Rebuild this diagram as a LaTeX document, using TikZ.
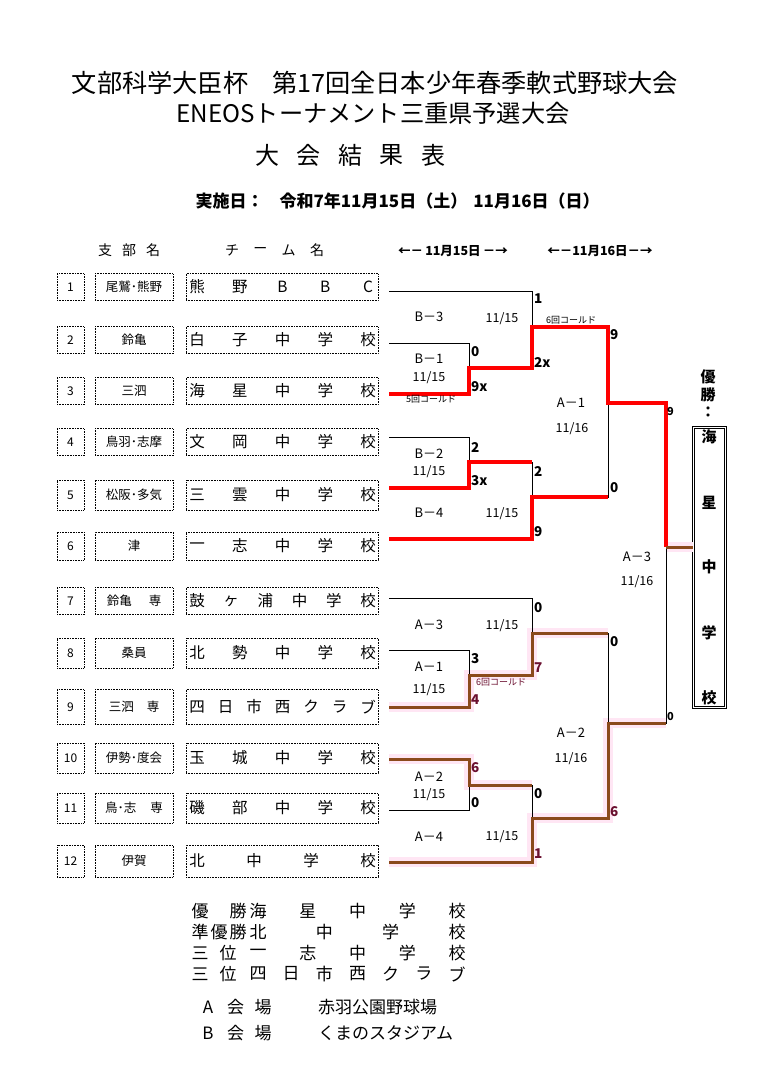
\documentclass[tikz,border=0pt]{standalone}
\usepackage{fontspec}
\setmainfont{Noto Sans CJK JP}
\usetikzlibrary{calc}
\definecolor{winRed}{HTML}{FF0000}
\definecolor{runBrown}{HTML}{8B4A1C}
\definecolor{haloPink}{HTML}{FFE6F4}
\definecolor{scoreMaroon}{HTML}{6B1030}
\newcommand{\fsz}[1]{\fontsize{#1}{#1}\selectfont}
\tikzset{
  numbox/.style={draw, densely dotted, line width=0.6pt, minimum width=27, minimum height=28, inner sep=0pt, font=\fsz{12}},
  branchbox/.style={numbox, minimum width=78, font=\fsz{12.5}},
  teambox/.style={numbox, minimum width=192},
  teamchar/.style={font=\fsz{15.5}, inner sep=0pt},
  headchar/.style={font=\fsz{14}, inner sep=0pt},
  titlechar/.style={font=\fsz{24}, inner sep=0pt},
  daterange/.style={font=\bfseries\fsz{12.5}, inner sep=0pt},
  matchlbl/.style={font=\fsz{13}, inner sep=0pt},
  datelbl/.style={font=\fsz{12.5}, inner sep=0pt},
  score/.style={font=\bfseries\fsz{13.5}, anchor=west, inner sep=0pt},
  coldnote/.style={font=\fsz{9}, inner sep=0pt},
  plainline/.style={draw=black, line width=1pt},
  winline/.style={draw=winRed, line width=3.2pt},
  runline/.style={draw=runBrown, line width=3pt},
  halo/.style={draw=haloPink, line width=10pt},
  champbox/.style={draw, double, double distance=1.4pt, line width=0.6pt, minimum width=32.5, minimum height=280.5, inner sep=0pt},
  champchar/.style={font=\bfseries\fsz{15}, inner sep=0pt},
  reschar/.style={font=\fsz{17}, inner sep=0pt},
}
% characters spread evenly between two x positions
\newcommand{\spreadchars}[7]{%
  \foreach \chr [count=\cidx] in {#7}
    \node[#1] (#2\cidx) at ({#4+(\cidx-1)*(#5-#4)/(#6-1)}, #3) {\chr};%
}
% one row of the team table
\newcommand{\teamrow}[6]{%
  \node[numbox, minimum height=#3] (num#1) at (70.5,#2) {#1};
  \node[branchbox, minimum height=#3] (br#1) at (134,#2) {#4};
  \node[teambox, minimum height=#3] (tm#1) at (282,#2) {};
  \spreadchars{teamchar}{tm#1c}{#2}{197}{368}{#5}{#6}
}
\newcommand{\brownpaths}[1]{%
  \draw[#1] (s9) -| (mA1a) -| (mA3a) -- (mA3a -| mA2);
  \draw[#1] (s10) -| (mA2a) -- (mA2a -| mA4a);
  \draw[#1] (s12) -| (mA4a) -| (mA2) -- (mA2 -| mF);
  \draw[#1] (mF) -- (mF -| champ.west);
}
\begin{document}
\begin{tikzpicture}[x=1pt,y=-1pt]
  \fill[white] (0,0) rectangle (768,1077);
  \useasboundingbox (0,0) rectangle (768,1077);

  % titles
  \node[font=\fsz{25.2}] (title1) at (375,83) {文部科学大臣杯\hspace{24pt}第17回全日本少年春季軟式野球大会};
  \node[font=\fsz{24.2}] (title2) at (373,113) {ENEOSトーナメント三重県予選大会};
  \spreadchars{titlechar}{title3c}{155}{267}{433}{5}{大,会,結,果,表}
  \node[font=\bfseries\fsz{17}, anchor=west] (heldon) at (192,201) {実施日：\hspace{16pt}令和7年11月15日（土）\hspace{6pt}11月16日（日）};

  % table header
  \spreadchars{headchar}{hbr}{250}{105}{153}{3}{支,部,名}
  \spreadchars{headchar}{htm}{250}{232}{317}{4}{チ,ー,ム,名}
  \node[daterange] (day15) at (453,251) {←－\,11月15日\,－→};
  \node[daterange] (day16) at (600,251) {←－11月16日－→};

  % teams
  \teamrow{1}{287}{27}{尾鷲･熊野}{5}{熊,野,B,B,C}
  \teamrow{2}{340}{27}{鈴亀}{5}{白,子,中,学,校}
  \teamrow{3}{391}{27}{三泗}{5}{海,星,中,学,校}
  \teamrow{4}{442}{27}{鳥羽･志摩}{5}{文,岡,中,学,校}
  \teamrow{5}{495}{30}{松阪･多気}{5}{三,雲,中,学,校}
  \teamrow{6}{546}{28}{津}{5}{一,志,中,学,校}
  \teamrow{7}{601}{27}{鈴亀\hspace{17pt}専}{6}{鼓,ヶ,浦,中,学,校}
  \teamrow{8}{653}{30}{桑員}{5}{北,勢,中,学,校}
  \teamrow{9}{707}{35}{三泗\hspace{13pt}専}{7}{四,日,市,西,ク,ラ,ブ}
  \teamrow{10}{758}{30}{伊勢･度会}{5}{玉,城,中,学,校}
  \teamrow{11}{808}{30}{鳥･志\hspace{14pt}専}{5}{磯,部,中,学,校}
  \teamrow{12}{861}{32}{伊賀}{4}{北,中,学,校}

  % champion
  \node[champbox] (champ) at (709.5,567.5) {};
  \foreach \chr/\y [count=\cidx] in {優/377,勝/395,：/412}
    \node[champchar] (win\cidx) at (708,\y) {\chr};
  \foreach \chr/\y [count=\cidx] in {海/437,星/503,中/567,学/633,校/698}
    \node[champchar] (champc\cidx) at (709,\y) {\chr};

  % bracket points
  \foreach \n/\y in {1/291,2/343,3/394,4/437,5/488,6/539,7/598,8/650,9/707,10/759,11/810,12/862}
    \coordinate (s\n) at (389,\y);
  \coordinate (mB1) at (469,368);
  \coordinate (mB3) at (532,327);
  \coordinate (mB2) at (469,462);
  \coordinate (mB4) at (532,497);
  \coordinate (mA1) at (608,403);
  \coordinate (mA1a) at (469,675);
  \coordinate (mA3a) at (532,633);
  \coordinate (mA2a) at (469,785);
  \coordinate (mA4a) at (532,818);
  \coordinate (mA2) at (608,723);
  \coordinate (mF) at (666,547);

  \brownpaths{halo}
  \foreach \a/\m/\b in {s2/mB1/s3, s1/mB3/mB1, s4/mB2/s5, mB2/mB4/s6, mB3/mA1/mB4,
      s8/mA1a/s9, s7/mA3a/mA1a, s10/mA2a/s11, mA2a/mA4a/s12, mA3a/mA2/mA4a, mA1/mF/mA2}
    \draw[plainline] (\a) -| (\m |- \b) -- (\b);
  \draw[winline] (s3) -| (mB1) -| (mB3) -| (mA1) -| (mF);
  \draw[winline] (s5) -| (mB2) -- (mB2 -| mB4);
  \draw[winline] (s6) -| (mB4) -- (mB4 -| mA1);
  \brownpaths{runline}

  % match labels
  \foreach \x/\y/\t [count=\i] in {429/317/B－3, 429/359/B－1, 429/454/B－2, 429/513/B－4,
      571/403/A－1, 637/557/A－3, 429/625/A－3, 429/667/A－1, 571/733/A－2, 429/777/A－2, 429/837/A－4}
    \node[matchlbl] (ml\i) at (\x,\y) {\t};
  \foreach \x/\y [count=\i] in {502/319, 429/378, 429/472, 502/514, 502/626, 429/690, 429/795, 502/837}
    \node[datelbl] (d15n\i) at (\x,\y) {11/15};
  \foreach \x/\y [count=\i] in {572/429, 637/582, 571/759}
    \node[datelbl] (d16n\i) at (\x,\y) {11/16};

  % scores
  \foreach \x/\y/\t [count=\i] in {534/299/1, 471/352/0, 471/387/9x, 534/362/2x, 471/447/2, 471/481/3x,
      534/471/2, 534/532/9, 610/335/9, 610/488/0, 534/608/0, 471/659/3, 610/642/0, 471/803/0, 534/794/0}
    \node[score] (sc\i) at (\x,\y) {\t};
  \foreach \x/\y/\t [count=\i] in {534/668/7, 471/700/4, 471/768/6, 534/854/1, 610/812/6}
    \node[score, text=scoreMaroon] (mc\i) at (\x,\y) {\t};
  \node[score, font=\bfseries\fsz{11}] (fin1) at (667,411) {9};
  \node[score, font=\bfseries\fsz{11}] (fin2) at (667,716) {0};
  \node[coldnote] (cold1) at (431,399) {5回コールド};
  \node[coldnote] (cold2) at (571,320) {6回コールド};
  \node[coldnote, text=scoreMaroon] (cold3) at (501,682) {6回コールド};

  % results
  \spreadchars{reschar}{r1l}{911}{200}{238}{2}{優,勝}
  \spreadchars{reschar}{r1n}{911}{258}{457}{5}{海,星,中,学,校}
  \spreadchars{reschar}{r2l}{932}{200}{238}{3}{準,優,勝}
  \spreadchars{reschar}{r2n}{932}{258}{457}{4}{北,中,学,校}
  \spreadchars{reschar}{r3l}{953}{200}{228}{2}{三,位}
  \spreadchars{reschar}{r3n}{953}{258}{457}{5}{一,志,中,学,校}
  \spreadchars{reschar}{r4l}{974}{200}{228}{2}{三,位}
  \spreadchars{reschar}{r4n}{974}{258}{457}{7}{四,日,市,西,ク,ラ,ブ}
  \spreadchars{reschar}{vAl}{1007}{208}{263}{3}{A,会,場}
  \node[reschar, anchor=west] (vAn) at (318,1007) {赤羽公園野球場};
  \spreadchars{reschar}{vBl}{1033}{208}{263}{3}{B,会,場}
  \node[reschar, anchor=west] (vBn) at (318,1033) {くまのスタジアム};
\end{tikzpicture}
\end{document}
